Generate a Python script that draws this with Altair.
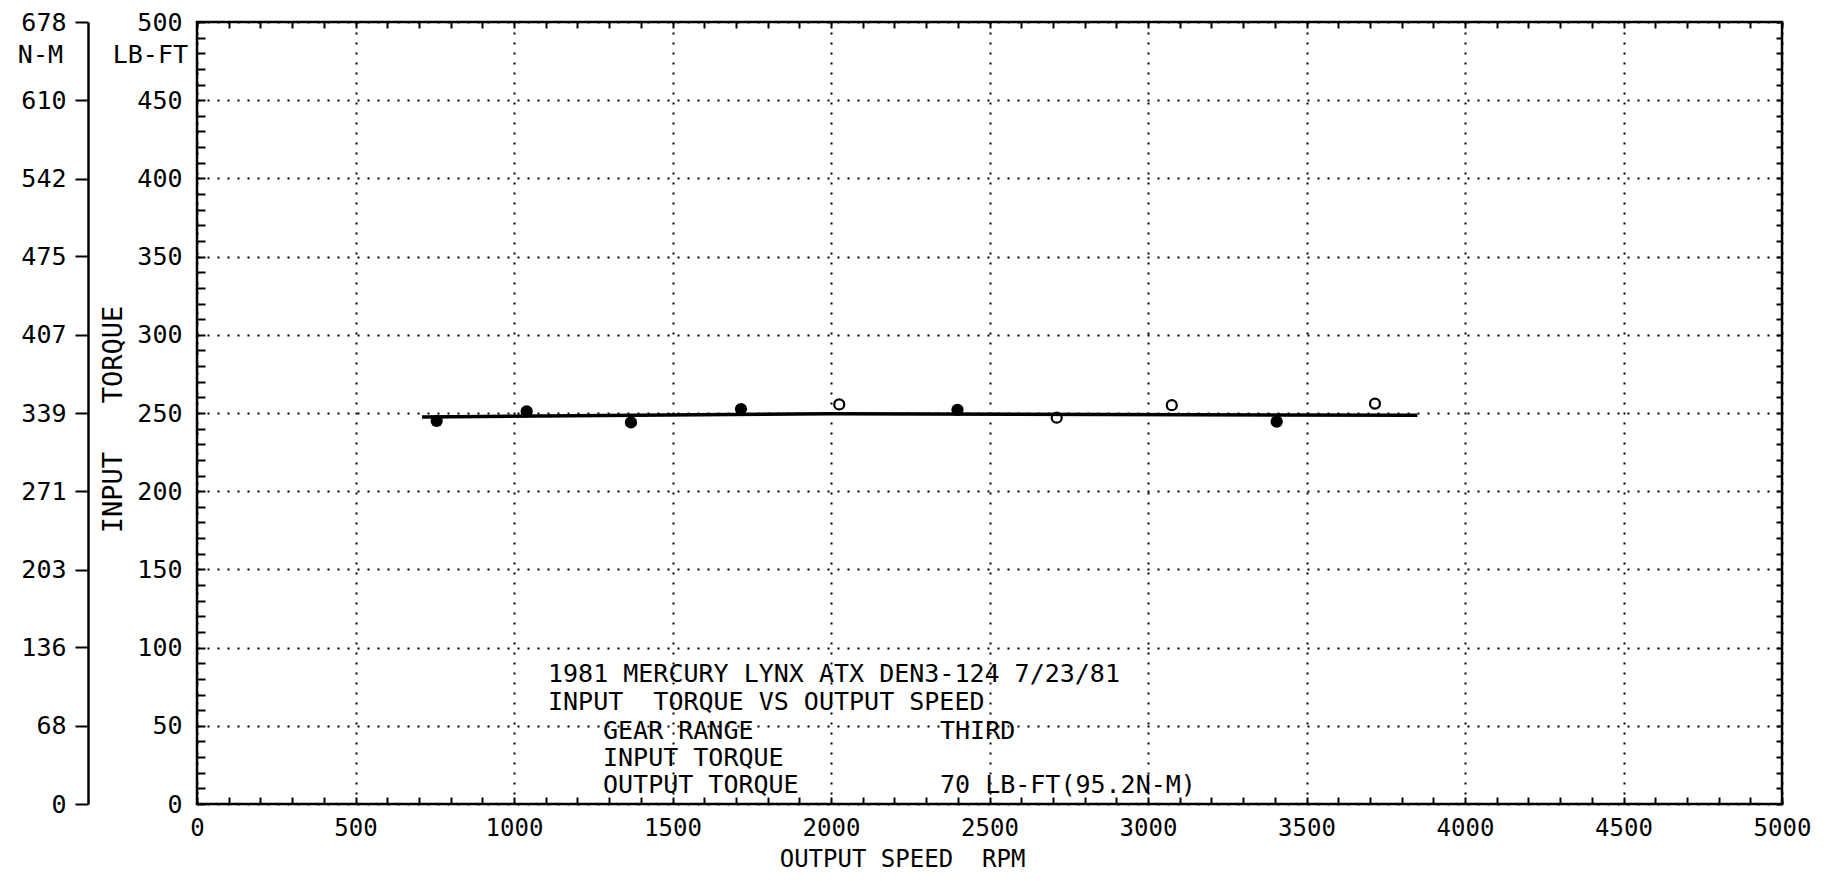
import altair as alt
import pandas as pd

# ---- data ----
x_labels = [0, 500, 1000, 1500, 2000, 2500, 3000, 3500, 4000, 4500, 5000]
y_labels = [0, 50, 100, 150, 200, 250, 300, 350, 400, 450, 500]
nm_labels = [0, 68, 136, 203, 271, 339, 407, 475, 542, 610, 678]
x_minor = list(range(0, 5001, 100))
y_minor = list(range(0, 501, 10))

filled_rpm = [756, 1040, 1369, 1716, 2399, 3406]
filled_torque = [245.0, 251.0, 244.0, 252.5, 252.0, 244.5]
open_rpm = [2026, 2712, 3075, 3716]
open_torque = [255.5, 247.0, 255.0, 256.0]
fit_rpm = [710, 2000, 3850]
fit_torque = [247.5, 249.5, 248.5]

FONT = "DejaVu Sans Mono"
FS = 25
NB = "\u00a0"
W, H = 1585, 782


def xsc():
    return alt.Scale(domain=[0, 5000], nice=False, zero=False)


def ysc():
    return alt.Scale(domain=[0, 500], nice=False, zero=False)


# main axes: inward minor ticks (negative offset), labels and dotted grid only on majors
x_axis = alt.Axis(
    orient="bottom", values=x_minor, format="d", offset=-7,
    ticks=True, tickSize=7, tickWidth=2, tickColor="black",
    grid=True, gridDash=[2, 8], gridColor="black", gridWidth=2,
    gridOpacity={"condition": {"test": "datum.value % 500 === 0", "value": 1}, "value": 0},
    domain=False,
    labelExpr="datum.value % 500 === 0 ? datum.label : ''",
    labelFont=FONT, labelFontSize=24, labelColor="black", labelPadding=12,
    labelFlush=False, labelOverlap=False,
    title="OUTPUT SPEED" + NB + " RPM", titleFont=FONT, titleFontSize=24,
    titleFontWeight="normal", titleColor="black", titleX=705, titleY=62,
    titleAlign="center", titleBaseline="middle", titleAnchor="start",
)
y_axis = alt.Axis(
    orient="left", values=y_minor, format="d", offset=-8,
    ticks=True, tickSize=8, tickWidth=2, tickColor="black",
    grid=True, gridDash=[2, 8], gridColor="black", gridWidth=2,
    gridOpacity={"condition": {"test": "datum.value % 50 === 0", "value": 1}, "value": 0},
    domain=False,
    labelExpr="datum.value % 50 === 0 ? datum.label : ''",
    labelFont=FONT, labelFontSize=FS, labelColor="black", labelPadding=15,
    labelFlush=False, labelOverlap=False,
    title="INPUT" + NB + NB + " TORQUE", titleFont=FONT, titleFontSize=27,
    titleFontWeight="normal", titleColor="black", titleX=-92, titleY=397,
    titleAngle=270, titleAlign="center", titleBaseline="middle",
    titleAnchor="start",
)


def minor_axis(orient, values, offset, size):
    return alt.Axis(
        orient=orient, values=values, offset=offset, tickSize=size, tickWidth=2,
        tickColor="black", ticks=True, labels=False, domain=False, grid=False,
        title=None,
    )


fit_df = pd.DataFrame({"rpm": fit_rpm, "torque": fit_torque})
fit = alt.Chart(fit_df).mark_line(color="black", strokeWidth=3.5).encode(
    x=alt.X("rpm:Q", scale=xsc(), axis=x_axis),
    y=alt.Y("torque:Q", scale=ysc(), axis=y_axis),
)

filled = alt.Chart(pd.DataFrame({"rpm": filled_rpm, "torque": filled_torque})).mark_point(
    filled=True, color="black", size=150, opacity=1
).encode(
    x=alt.X("rpm:Q", scale=xsc(), axis=minor_axis("top", x_minor, -6, 6)),
    y=alt.Y("torque:Q", scale=ysc(), axis=None),
)

opened = alt.Chart(pd.DataFrame({"rpm": open_rpm, "torque": open_torque})).mark_point(
    filled=False, color="black", size=100, strokeWidth=2.2, opacity=1
).encode(
    x=alt.X("rpm:Q", scale=xsc(), axis=None),
    y=alt.Y("torque:Q", scale=ysc(), axis=minor_axis("right", y_minor, -6, 6)),
)


def label(text, px, py, align="left"):
    return alt.Chart(pd.DataFrame({"t": [text]})).mark_text(
        font=FONT, fontSize=FS, color="black", align=align, baseline="middle"
    ).encode(x=alt.value(px), y=alt.value(py), text="t:N")


texts = [
    label("1981 MERCURY LYNX ATX DEN3-124 7/23/81", 351, 652),
    label("INPUT" + NB + " TORQUE VS OUTPUT SPEED", 351, 680),
    label("GEAR RANGE", 406, 709),
    label("THIRD", 743, 709),
    label("INPUT TORQUE", 406, 736),
    label("OUTPUT TORQUE", 406, 763),
    label("70 LB-FT(95.2N-M)", 743, 763),
    label("N-M", -134, 33, "right"),
    label("LB-FT", -9, 33, "right"),
]

main = alt.layer(fit, filled, opened, *texts).resolve_axis(x="independent", y="independent")

# second (metric) torque axis
nm_axis = alt.Axis(
    orient="left", offset=109, values=nm_labels, format="d", grid=False,
    ticks=True, tickSize=13, tickColor="black", tickWidth=2, domain=True,
    domainColor="black", domainWidth=2.5, labelFont=FONT, labelFontSize=FS,
    labelColor="black", labelPadding=9, labelFlush=False, title=None,
)
nm = alt.Chart(pd.DataFrame({"nm": nm_labels})).mark_point(opacity=0).encode(
    y=alt.Y("nm:Q", scale=alt.Scale(domain=[0, 678], nice=False, zero=False), axis=nm_axis)
)

chart = (
    alt.layer(main, nm)
    .resolve_scale(y="independent")
    .properties(
        width=W, height=H,
        autosize=alt.AutoSizeParams(type="none"),
        padding={"left": 189, "top": 14, "right": 40, "bottom": 69},
        background="white",
    )
    .configure_view(stroke="black", strokeWidth=2.5)
)

chart.save("out.html", embed_options={"renderer": "svg", "actions": False})
